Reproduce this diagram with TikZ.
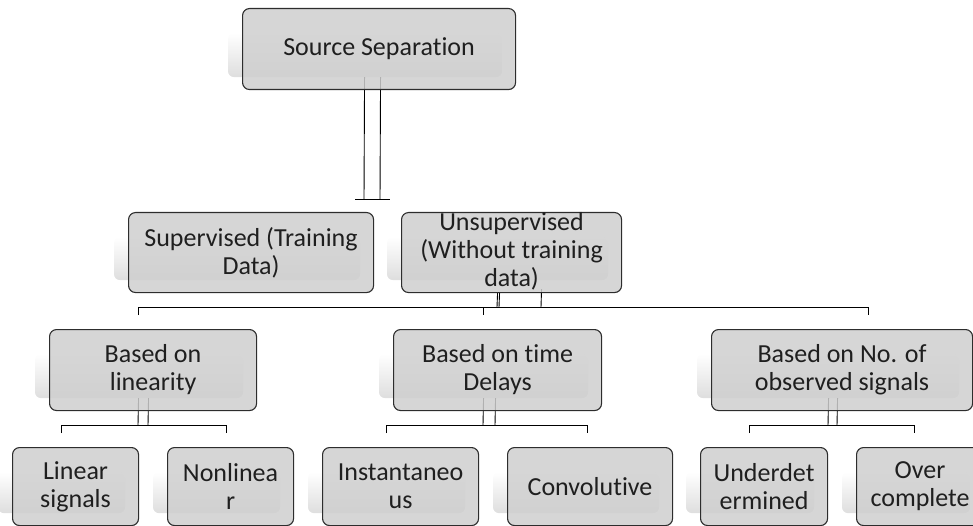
\documentclass[tikz,border=0pt]{standalone}
\usepackage{fontspec}
\setmainfont{Carlito}[Ligatures=NoCommon]
\usetikzlibrary{calc}
\pgfdeclarelayer{background}
\pgfsetlayers{background,main}
\definecolor{boxfill}{RGB}{207,207,207}
\definecolor{boxline}{RGB}{45,45,45}
\newcommand\boxshadow[1]{\shade[rounded corners=6pt, top color=white, bottom color=black!13]
  ($(#1.north west)+(-14,25)$) rectangle ($(#1.south east)+(-14,-13)$);}
\begin{document}
\begin{tikzpicture}[x=1pt,y=-1pt,
  box/.style={draw=boxline, line width=1.1pt, rounded corners=7pt, fill=boxfill,
    fill opacity=0.85, inner sep=0pt, anchor=north west},
  lbl/.style={align=center, font=\fontsize{26}{28}\selectfont, text=black!88, inner sep=0pt},
  conn/.style={draw=black, line width=0.9pt}]
\clip (0,0) rectangle (973,526);
% boxes
\node[box, minimum width=273, minimum height=81] (src) at (242,8) {};
\node[box, minimum width=245, minimum height=80] (sup) at (128,212) {};
\node[box, minimum width=220, minimum height=80] (uns) at (401,212) {};
\node[box, minimum width=207, minimum height=81] (lin) at (49,329) {};
\node[box, minimum width=208, minimum height=81] (tim) at (393,329) {};
\node[box, minimum width=261, minimum height=81] (num) at (711,329) {};
\node[box, minimum width=126, minimum height=78] (l1) at (12,447) {};
\node[box, minimum width=126, minimum height=78] (l2) at (167,447) {};
\node[box, minimum width=156, minimum height=78] (t1) at (322,447) {};
\node[box, minimum width=165, minimum height=78] (t2) at (507,447) {};
\node[box, minimum width=127, minimum height=78] (n1) at (700,447) {};
\node[box, minimum width=127, minimum height=78] (n2) at (856,447) {};
% texts
\node[lbl] (srct) at (src.center) {Source Separation};
\node[lbl] (supt) at (sup.center) {Supervised (Training\\Data)};
\node[lbl] (unst) at ($(uns.center)+(0,-1)$) {Unsupervised\\(Without training\\data)};
\node[lbl] (lint) at (lin.center) {Based on\\linearity};
\node[lbl] (timt) at (tim.center) {Based on time\\Delays};
\node[lbl] (numt) at (num.center) {Based on No. of\\observed signals};
\node[lbl] (l1t) at (l1.center) {Linear\\signals};
\node[lbl] (l2t) at (l2.center) {Nonlinea\\r};
\node[lbl] (t1t) at (t1.center) {Instantaneo\\us};
\node[lbl] (t2t) at (t2.center) {Convolutive};
\node[lbl] (n1t) at (n1.center) {Underdet\\ermined};
\node[lbl] (n2t) at (n2.center) {Over\\complete};
\begin{pgfonlayer}{background}
\foreach \b in {src,sup,uns,lin,tim,num,l1,l2,t1,t2,n1,n2}{\boxshadow{\b}}
% source -> level 1
\draw[conn] ($(src.south)+(-14.5,-13)$) -- (364,199);
\draw[conn] ($(src.south)+(1.5,-13)$) -- (380,199);
\draw[conn] (355,199) -- (390,199);
% unsupervised -> level 2
\draw[conn] ($(uns.south)+(-14,0)$) -- (497,307);
\draw[conn] ($(uns.south)+(-12,0)$) -- (499,307);
\draw[conn] ($(uns.south)+(30,-4)$) -- (541,307);
\draw[conn] (138,315) -- (138,307) -- (868,307) -- (868,315);
\draw[conn] (483,307) -- (483,315);
% level 2 -> level 3
\draw[conn] ($(lin.south)+(-14.5,-13)$) -- (138,425);
\draw[conn] ($(lin.south)+(-4.5,-13)$) -- (148,425);
\draw[conn] (61,433) -- (61,425) -- (226,425) -- (226,433);
\draw[conn] ($(tim.south)+(-14,-13)$) -- (483,425);
\draw[conn] ($(tim.south)+(-2,-13)$) -- (495,425);
\draw[conn] (386,433) -- (386,425) -- (587,425) -- (587,433);
\draw[conn] ($(num.south)+(-13.5,-13)$) -- (828,425);
\draw[conn] ($(num.south)+(-4.5,-13)$) -- (837,425);
\draw[conn] (749,433) -- (749,425) -- (914,425) -- (914,433);
\end{pgfonlayer}
\end{tikzpicture}
\end{document}
